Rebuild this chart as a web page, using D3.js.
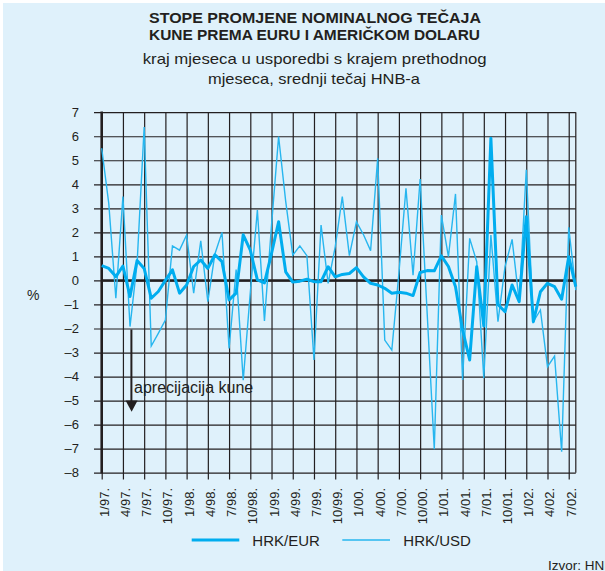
<!DOCTYPE html>
<html>
<head>
<meta charset="utf-8">
<script src="https://cdn.jsdelivr.net/npm/d3@7"></script>
<style>
  html, body { margin: 0; padding: 0; background: #ffffff; }
  svg { display: block; }
  text { font-family: "Liberation Sans", Arial, Helvetica, sans-serif; fill: #231f20; }
</style>
</head>
<body>
<svg id="chart" width="605" height="571"></svg>
<script>
// Monthly rate of change of the kuna exchange rate, Jan 1997 – Aug 2002 (%)
const months = [
  "1/97.","2/97.","3/97.","4/97.","5/97.","6/97.","7/97.","8/97.","9/97.","10/97.","11/97.","12/97.",
  "1/98.","2/98.","3/98.","4/98.","5/98.","6/98.","7/98.","8/98.","9/98.","10/98.","11/98.","12/98.",
  "1/99.","2/99.","3/99.","4/99.","5/99.","6/99.","7/99.","8/99.","9/99.","10/99.","11/99.","12/99.",
  "1/00.","2/00.","3/00.","4/00.","5/00.","6/00.","7/00.","8/00.","9/00.","10/00.","11/00.","12/00.",
  "1/01.","2/01.","3/01.","4/01.","5/01.","6/01.","7/01.","8/01.","9/01.","10/01.","11/01.","12/01.",
  "1/02.","2/02.","3/02.","4/02.","5/02.","6/02.","7/02.","8/02."
];

const hrkEur = [
  0.62, 0.50, 0.16, 0.60, -0.67, 0.83, 0.50, -0.74, -0.46, 0.00, 0.44, -0.53,
  -0.19, 0.58, 0.85, 0.50, 1.07, 0.78, -0.81, -0.53, 1.90, 1.26, 0.02, -0.10,
  1.12, 2.44, 0.36, -0.07, -0.03, 0.05, -0.05, -0.05, 0.57, 0.15, 0.25, 0.29,
  0.53, 0.15, -0.12, -0.19, -0.33, -0.53, -0.49, -0.53, -0.63, 0.33, 0.41, 0.40,
  1.02, 0.58, -0.26, -2.06, -3.31, 0.57, -1.90, 5.92, -1.00, -1.30, -0.19, -0.88,
  2.65, -1.72, -0.47, -0.12, -0.26, -0.78, 0.99, -0.26
];

const hrkUsd = [
  5.50, 3.20, -0.74, 3.49, -1.92, 0.70, 6.38, -2.73, -2.20, -1.65, 1.44, 1.26,
  1.89, -0.53, 1.65, -0.88, 1.10, 2.00, -2.83, 0.45, -4.15, -0.50, 2.93, -1.69,
  2.30, 5.99, 3.30, 1.05, 1.44, 1.03, -3.31, 2.30, -0.12, 1.40, 3.49, 1.03,
  2.44, 1.90, 1.24, 5.08, -2.48, -2.90, 0.30, 3.83, 0.22, 4.22, -1.40, -7.02,
  2.72, 0.99, 3.60, -4.14, 1.75, 0.78, -4.07, 1.89, -1.72, 0.57, 1.71, -0.88,
  4.60, -1.72, -1.23, -3.59, -3.15, -7.13, 2.21, -0.40
];

const yTicks = [7, 6, 5, 4, 3, 2, 1, 0, -1, -2, -3, -4, -5, -6, -7, -8];
const xTickIndex = d3.range(0, months.length, 3);   // one tick per quarter

const seriesNames = ["HRK/EUR", "HRK/USD"];

const titleLines = ["STOPE PROMJENE NOMINALNOG TEČAJA", "KUNE PREMA EURU I AMERIČKOM DOLARU"];
const subtitleLines = ["kraj mjeseca u usporedbi s krajem prethodnog", "mjeseca, srednji tečaj HNB-a"];

const colEur = "#00adef";
const colUsd = "#27b6ef";
const ink = "#231f20";
const bg = "#dff1fb";

const svg = d3.select("#chart");

svg.append("rect").attr("x", 3).attr("y", 3).attr("width", 602).attr("height", 568).attr("fill", bg);

// plot frame
const plotLeft = 101.7, plotRight = 575.8, plotTop = 112.2, plotBottom = 472.7;

const x = d3.scaleLinear().domain([0, months.length - 1]).range([plotLeft, plotRight]);
const y = d3.scaleLinear().domain([-8, 7]).range([plotBottom, plotTop]);

// horizontal grid + y labels
const yAxis = d3.axisLeft(y)
  .tickValues(yTicks)
  .tickSize(plotRight - 94)
  .tickPadding(15)
  .tickFormat(d => d < 0 ? "\u2013" + Math.abs(d) : String(d));

const gy = svg.append("g").attr("transform", `translate(${plotRight},0)`).call(yAxis);
gy.select(".domain").remove();
gy.selectAll(".tick line").attr("stroke", ink).attr("stroke-width", 1.2);
gy.selectAll(".tick text")
  .attr("fill", ink)
  .style("font-size", "13px")
  .style("font-family", "'Liberation Sans', Arial, sans-serif");

// vertical grid + x labels
const xTickSize = 479.5 - plotTop;
const xAxis = d3.axisBottom(x)
  .tickValues(xTickIndex)
  .tickSize(xTickSize)
  .tickFormat(i => months[i]);

const gx = svg.append("g").attr("transform", `translate(0,${plotTop})`).call(xAxis);
gx.select(".domain").remove();
gx.selectAll(".tick line").attr("stroke", ink).attr("stroke-width", 1.2);
gx.selectAll(".tick text")
  .attr("fill", ink)
  .style("font-size", "13px")
  .style("font-family", "'Liberation Sans', Arial, sans-serif")
  .attr("text-anchor", "end")
  .attr("x", 0)
  .attr("y", 0)
  .attr("dy", "0.5em")
  .attr("transform", `translate(0,${xTickSize + 8.5}) rotate(-90)`);

// frame: right border, heavy left axis and zero line
svg.append("line").attr("x1", plotRight).attr("x2", plotRight).attr("y1", plotTop).attr("y2", plotBottom)
  .attr("stroke", ink).attr("stroke-width", 1.2);
svg.append("line").attr("x1", plotLeft).attr("x2", plotLeft).attr("y1", plotTop - 0.6).attr("y2", plotBottom + 0.6)
  .attr("stroke", ink).attr("stroke-width", 2.6);
svg.append("line").attr("x1", plotLeft).attr("x2", plotRight).attr("y1", y(0)).attr("y2", y(0))
  .attr("stroke", ink).attr("stroke-width", 2.6);

// series
const line = d3.line().x((d, i) => x(i)).y(d => y(d));

svg.append("path").datum(hrkUsd)
  .attr("d", line).attr("fill", "none")
  .attr("stroke", colUsd).attr("stroke-width", 1.4).attr("stroke-linejoin", "miter");

svg.append("path").datum(hrkEur)
  .attr("d", line).attr("fill", "none")
  .attr("stroke", colEur).attr("stroke-width", 3).attr("stroke-linejoin", "round");

// appreciation arrow
svg.append("line").attr("x1", 131.4).attr("x2", 131.4).attr("y1", 329.5).attr("y2", 402)
  .attr("stroke", ink).attr("stroke-width", 2);
svg.append("path").attr("d", "M125.6,400.6 L137.6,400.6 L131.6,411.8 Z").attr("fill", ink);
svg.append("text").attr("x", 134).attr("y", 393).style("font-size", "16px").text("aprecijacija kune");

// unit label
svg.append("text").attr("x", 27).attr("y", 300).style("font-size", "14px").text("%");

// titles
const titleFmt = [
  { x: 149, y: 23.2, len: 332 },
  { x: 149, y: 39.6, len: 331 }
];
titleLines.forEach((t, k) => {
  svg.append("text")
    .attr("x", titleFmt[k].x).attr("y", titleFmt[k].y)
    .attr("textLength", titleFmt[k].len).attr("lengthAdjust", "spacingAndGlyphs")
    .style("font-size", "14.5px").style("font-weight", "bold")
    .text(t);
});
const subFmt = [
  { x: 142.7, y: 64, len: 344 },
  { x: 208, y: 84, len: 212 }
];
subtitleLines.forEach((t, k) => {
  svg.append("text")
    .attr("x", subFmt[k].x).attr("y", subFmt[k].y)
    .attr("textLength", subFmt[k].len).attr("lengthAdjust", "spacingAndGlyphs")
    .style("font-size", "14.5px")
    .text(t);
});

// legend
const legend = [
  { name: seriesNames[0], color: colEur, width: 3, x1: 191.7, x2: 239.3, tx: 252.3 },
  { name: seriesNames[1], color: colUsd, width: 1.5, x1: 342.3, x2: 390, tx: 403.3 }
];
legend.forEach(l => {
  svg.append("line").attr("x1", l.x1).attr("x2", l.x2).attr("y1", 540).attr("y2", 540)
    .attr("stroke", l.color).attr("stroke-width", l.width);
  svg.append("text").attr("x", l.tx).attr("y", 546.3).style("font-size", "15px").text(l.name);
});

// source
svg.append("text").attr("x", 548).attr("y", 570).style("font-size", "13.5px").text("Izvor: HNB");
</script>
</body>
</html>
